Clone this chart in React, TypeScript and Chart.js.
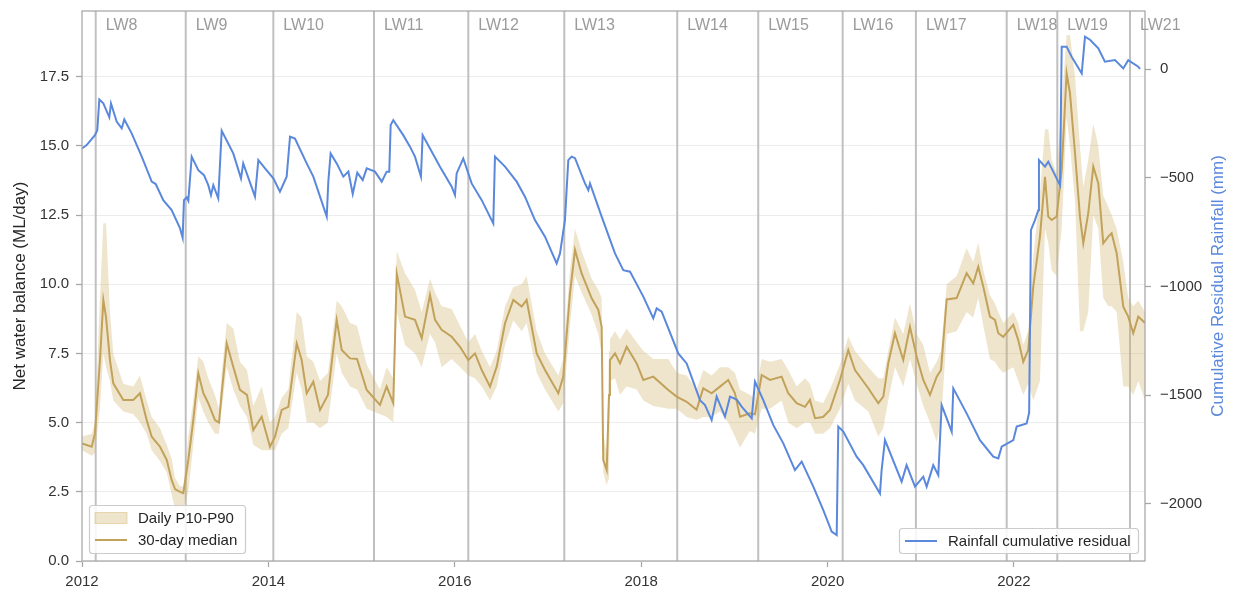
import { useEffect, useRef } from 'react';
import { Chart, registerables } from 'chart.js';

Chart.register(...registerables);

// ---- 30-day median and daily P10–P90 band (ML/day), decimal years ----
const medianYears = [
  2012.000, 2012.104, 2012.139, 2012.193, 2012.229, 2012.258, 2012.300, 2012.336, 2012.443, 2012.550,
  2012.622, 2012.694, 2012.748, 2012.837, 2012.909, 2012.962, 2012.998, 2013.052, 2013.087, 2013.141,
  2013.194, 2013.248, 2013.302, 2013.355, 2013.427, 2013.470, 2013.499, 2013.553, 2013.623, 2013.695,
  2013.770, 2013.838, 2013.928, 2014.017, 2014.071, 2014.143, 2014.214, 2014.304, 2014.357, 2014.411,
  2014.482, 2014.554, 2014.639, 2014.733, 2014.787, 2014.876, 2014.951, 2015.055, 2015.197, 2015.269,
  2015.340, 2015.377, 2015.466, 2015.573, 2015.645, 2015.734, 2015.788, 2015.859, 2015.967, 2016.056,
  2016.145, 2016.217, 2016.289, 2016.378, 2016.450, 2016.539, 2016.628, 2016.718, 2016.771, 2016.879,
  2016.968, 2017.111, 2017.164, 2017.236, 2017.290, 2017.361, 2017.469, 2017.540, 2017.576, 2017.593,
  2017.630, 2017.655, 2017.665, 2017.719, 2017.773, 2017.844, 2017.952, 2018.023, 2018.130, 2018.291,
  2018.381, 2018.488, 2018.595, 2018.666, 2018.756, 2018.845, 2018.934, 2019.006, 2019.060, 2019.167,
  2019.221, 2019.293, 2019.382, 2019.507, 2019.578, 2019.668, 2019.758, 2019.811, 2019.865, 2019.951,
  2020.026, 2020.133, 2020.222, 2020.294, 2020.437, 2020.544, 2020.598, 2020.651, 2020.723, 2020.812,
  2020.884, 2020.956, 2021.027, 2021.099, 2021.171, 2021.217, 2021.278, 2021.385, 2021.492, 2021.563,
  2021.617, 2021.671, 2021.742, 2021.796, 2021.832, 2021.885, 2021.993, 2022.046, 2022.100, 2022.153,
  2022.207, 2022.279, 2022.333, 2022.368, 2022.404, 2022.458, 2022.512, 2022.565, 2022.601, 2022.655,
  2022.708, 2022.744, 2022.797, 2022.851, 2022.905, 2022.958, 2023.012, 2023.048, 2023.102, 2023.173,
  2023.226, 2023.280, 2023.334, 2023.406,
];

const medianValues = [
  4.25, 4.13, 4.61, 7.26, 9.43, 8.80, 7.26, 6.42, 5.82, 5.82,
  6.06, 5.09, 4.49, 4.13, 3.65, 2.93, 2.60, 2.50, 2.45, 3.65,
  5.09, 6.78, 6.06, 5.70, 5.09, 5.00, 6.06, 7.86, 7.02, 6.18,
  6.00, 4.73, 5.21, 4.13, 4.49, 5.46, 5.57, 7.86, 7.26, 6.06,
  6.48, 5.46, 6.00, 8.71, 7.62, 7.32, 7.30, 6.18, 5.64, 6.30,
  5.70, 10.39, 8.83, 8.71, 8.05, 9.61, 8.71, 8.35, 8.10, 7.74,
  7.26, 7.50, 6.90, 6.30, 7.02, 8.59, 9.43, 9.19, 9.43, 7.50,
  6.90, 6.06, 6.66, 9.67, 11.24, 10.39, 9.49, 9.07, 8.46, 3.65,
  3.29, 6.00, 7.26, 7.50, 7.14, 7.74, 7.14, 6.54, 6.66, 6.18,
  5.94, 5.75, 5.46, 6.24, 6.06, 6.30, 6.54, 6.06, 5.21, 5.34,
  5.30, 6.72, 6.54, 6.66, 6.06, 5.70, 5.57, 5.82, 5.16, 5.20,
  5.46, 6.54, 7.62, 6.90, 6.24, 5.70, 5.94, 7.14, 8.23, 7.26,
  8.46, 7.38, 6.54, 6.00, 6.66, 6.90, 9.45, 9.50, 10.40, 10.03,
  10.63, 9.91, 8.83, 8.71, 8.23, 8.10, 8.53, 7.98, 7.20, 7.62,
  9.91, 11.72, 13.88, 12.44, 12.32, 12.44, 14.13, 17.62, 16.90, 14.73,
  12.44, 11.48, 12.56, 14.25, 13.64, 11.48, 11.72, 11.84, 11.12, 9.19,
  8.83, 8.23, 8.83, 8.60,
];

const bandLow = [
  4.0, 3.8, 3.9, 5.5, 7.5, 7.0, 6.5, 5.8, 5.4, 5.3,
  5.0, 4.6, 4.0, 3.6, 3.2, 2.4, 1.9, 2.0, 1.9, 2.5,
  4.2, 5.9, 5.4, 5.0, 4.6, 4.6, 5.5, 7.0, 6.2, 5.6,
  5.2, 4.2, 4.0, 4.0, 4.0, 4.6, 4.8, 6.8, 6.2, 5.0,
  5.0, 4.8, 5.0, 7.5, 6.8, 6.3, 6.2, 5.5, 5.3, 5.2,
  5.0, 9.0, 7.8, 7.5, 7.0, 8.2, 7.9, 7.0, 7.3, 7.0,
  6.7, 6.6, 6.3, 5.8, 6.3, 7.8, 8.7, 8.3, 8.6, 6.8,
  6.2, 5.4, 5.7, 8.5, 10.3, 9.7, 8.9, 8.2, 7.5, 3.2,
  2.75, 3.0, 6.5, 6.6, 6.0, 6.3, 6.2, 5.8, 5.6, 5.5,
  5.5, 5.2, 5.1, 5.2, 5.2, 5.4, 5.0, 4.5, 4.1, 4.7,
  4.6, 5.5, 5.5, 5.8, 5.0, 4.8, 5.0, 5.0, 4.6, 4.6,
  4.8, 5.5, 6.4, 5.8, 5.4, 4.5, 4.8, 5.8, 7.0, 6.3,
  7.3, 6.4, 5.6, 5.0, 4.3, 5.0, 8.2, 8.3, 9.0, 8.8,
  9.5, 8.5, 7.3, 7.2, 7.0, 6.8, 7.0, 6.5, 6.0, 6.4,
  5.8, 6.5, 12.0, 11.5, 10.5, 10.3, 12.0, 16.0, 15.0, 13.0,
  8.3, 8.3, 9.0, 12.5, 12.0, 9.5, 9.2, 9.2, 9.0, 6.3,
  6.3, 6.0, 6.5, 5.8,
];

const bandHigh = [
  4.5, 4.6, 5.0, 9.5, 12.2, 12.2, 9.0, 7.5, 6.4, 6.3,
  6.7, 5.8, 5.2, 4.8, 4.2, 3.7, 3.0, 2.7, 2.7, 4.5,
  5.8, 7.4, 7.2, 6.6, 6.0, 5.5, 6.8, 8.6, 8.4, 7.2,
  6.9, 5.6, 6.3, 5.0, 5.2, 5.9, 6.2, 9.0, 8.8, 7.4,
  7.2, 6.5, 6.8, 9.4, 9.2, 8.6, 8.5, 7.1, 6.2, 7.0,
  6.6, 11.2, 10.4, 9.8, 9.0, 10.2, 9.7, 9.2, 9.1, 8.5,
  7.9, 8.2, 7.6, 7.0, 7.6, 9.2, 9.9, 10.0, 10.3, 8.3,
  7.5, 6.7, 7.3, 10.5, 12.0, 11.2, 10.2, 9.8, 9.5, 4.6,
  3.9, 7.6, 8.0, 8.3, 8.0, 8.4, 7.9, 7.6, 7.3, 7.3,
  6.8, 6.7, 6.2, 6.9, 6.7, 7.0, 7.0, 6.8, 6.2, 6.0,
  5.9, 7.3, 7.2, 7.3, 6.9, 6.3, 6.6, 6.4, 5.8, 5.7,
  6.2, 7.1, 8.1, 7.6, 7.0, 6.6, 6.6, 7.6, 8.8, 8.2,
  9.3, 8.2, 7.8, 6.8, 7.2, 7.6, 10.0, 10.3, 11.3, 10.8,
  11.5, 10.5, 9.6, 9.3, 9.0, 8.6, 9.0, 8.6, 7.8, 8.3,
  11.0, 13.3, 15.6, 15.6, 14.5, 14.0, 16.5, 19.0, 19.0, 17.5,
  15.0, 13.5, 14.5, 15.8, 15.0, 13.2, 12.8, 12.5, 12.0, 10.8,
  9.5, 9.2, 9.4, 9.0,
];

// ---- Rainfall cumulative residual (mm), decimal years ----
const rainYears = [
  2012.000, 2012.050, 2012.139, 2012.164, 2012.186, 2012.229, 2012.293, 2012.311, 2012.372, 2012.426,
  2012.454, 2012.533, 2012.641, 2012.748, 2012.791, 2012.872, 2012.962, 2013.052, 2013.080, 2013.094,
  2013.123, 2013.141, 2013.177, 2013.248, 2013.309, 2013.355, 2013.384, 2013.409, 2013.462, 2013.499,
  2013.623, 2013.706, 2013.730, 2013.856, 2013.892, 2013.964, 2014.053, 2014.124, 2014.196, 2014.232,
  2014.285, 2014.411, 2014.482, 2014.626, 2014.643, 2014.668, 2014.733, 2014.804, 2014.858, 2014.905,
  2014.954, 2015.012, 2015.055, 2015.144, 2015.216, 2015.269, 2015.297, 2015.312, 2015.340, 2015.447,
  2015.519, 2015.573, 2015.637, 2015.655, 2015.734, 2015.841, 2015.967, 2016.002, 2016.020, 2016.091,
  2016.181, 2016.289, 2016.413, 2016.431, 2016.539, 2016.664, 2016.753, 2016.860, 2016.968, 2017.093,
  2017.129, 2017.182, 2017.218, 2017.254, 2017.290, 2017.397, 2017.433, 2017.451, 2017.576, 2017.719,
  2017.808, 2017.880, 2018.023, 2018.130, 2018.166, 2018.220, 2018.398, 2018.488, 2018.631, 2018.685,
  2018.756, 2018.810, 2018.899, 2018.953, 2019.025, 2019.078, 2019.186, 2019.221, 2019.310, 2019.418,
  2019.525, 2019.650, 2019.722, 2019.847, 2019.954, 2020.044, 2020.098, 2020.115, 2020.169, 2020.312,
  2020.383, 2020.562, 2020.580, 2020.616, 2020.795, 2020.848, 2020.938, 2021.027, 2021.063, 2021.134,
  2021.188, 2021.224, 2021.332, 2021.349, 2021.492, 2021.635, 2021.778, 2021.832, 2021.868, 2021.993,
  2022.029, 2022.136, 2022.153, 2022.163, 2022.182, 2022.225, 2022.261, 2022.268, 2022.333, 2022.368,
  2022.494, 2022.512, 2022.565, 2022.619, 2022.727, 2022.762, 2022.816, 2022.905, 2022.976, 2023.084,
  2023.173, 2023.226, 2023.334, 2023.352,
];

const rainResidual = [
  -365, -350, -304, -281, -140, -158, -222, -158, -242, -273,
  -232, -296, -403, -518, -529, -603, -649, -733, -776, -603,
  -590, -606, -403, -465, -488, -534, -580, -534, -595, -284,
  -388, -503, -434, -587, -419, -457, -503, -564, -495, -311,
  -320, -434, -495, -679, -518, -388, -434, -495, -472, -575,
  -477, -511, -457, -472, -518, -472, -472, -258, -235, -304,
  -357, -403, -495, -304, -365, -449, -541, -580, -480, -411,
  -526, -603, -710, -403, -449, -518, -587, -695, -771, -894,
  -848, -695, -419, -403, -410, -526, -557, -526, -679, -848,
  -925, -932, -1047, -1147, -1101, -1116, -1308, -1354, -1523, -1546,
  -1615, -1507, -1599, -1507, -1520, -1553, -1607, -1438, -1523, -1638,
  -1722, -1845, -1806, -1921, -2029, -2128, -2144, -1645, -1668, -1783,
  -1822, -1952, -1845, -1707, -1898, -1822, -1921, -1875, -1921, -1822,
  -1868, -1546, -1668, -1469, -1584, -1707, -1783, -1791, -1737, -1707,
  -1645, -1630, -1599, -1580, -741, -695, -649, -419, -449, -426,
  -534, 103, 103, 57, -20, 149, 135, 95, 34, 41,
  3, 41, 11, 0,
];

// ---- Longwall panel start markers ----
const lwNames = ['LW8', 'LW9', 'LW10', 'LW11', 'LW12', 'LW13', 'LW14', 'LW15', 'LW16', 'LW17', 'LW18', 'LW19', 'LW21'];
const lwYears = [2012.147, 2013.113, 2014.053, 2015.133, 2016.145, 2017.175, 2018.387, 2019.256, 2020.162, 2020.948, 2021.922, 2022.465, 2023.245];

// ---- Axis ranges and tick values ----
const X_MIN = 2012;
const X_MAX = 2023.406;
const Y_MIN = 0;
const Y_MAX = 19.87;
const R_MIN = -2263;
const R_MAX = 267;
const xTicks = [2012, 2014, 2016, 2018, 2020, 2022];
const yTicks = [0, 2.5, 5, 7.5, 10, 12.5, 15, 17.5];
const rainTicks = [-2000, -1500, -1000, -500, 0];

const FONT = "'Liberation Sans', Arial, Helvetica, sans-serif";
const BLUE = '#5a88dc';
const GOLD = '#c2a25a';
const BAND = 'rgba(205, 175, 100, 0.32)';
const BAND_EDGE = 'rgba(205, 175, 100, 0.42)';
const TEXT = '#262626';
const TICK_TEXT = '#333333';
const FRAME = '#a6a6a6';
const LW_LINE = '#c0c0c0';
const LW_TEXT = '#9b9b9b';

function points(xs: number[], ys: number[]) {
  return xs.map((x, i) => ({ x, y: ys[i] }));
}

function fixedTicks(values: number[]) {
  return (scale: any) => {
    scale.ticks = values.map((value) => ({ value }));
  };
}

// Fix an axis box to a given thickness and drop the label overhang padding
function fixedBox(prop: 'width' | 'height', size: number) {
  return (scale: any) => {
    scale[prop] = size;
    scale.paddingTop = 0;
    scale.paddingBottom = 0;
    scale.paddingLeft = 0;
    scale.paddingRight = 0;
  };
}

function roundRectPath(ctx: CanvasRenderingContext2D, x: number, y: number, w: number, h: number, r: number) {
  ctx.beginPath();
  ctx.moveTo(x + r, y);
  ctx.lineTo(x + w - r, y);
  ctx.arcTo(x + w, y, x + w, y + r, r);
  ctx.lineTo(x + w, y + h - r);
  ctx.arcTo(x + w, y + h, x + w - r, y + h, r);
  ctx.lineTo(x + r, y + h);
  ctx.arcTo(x, y + h, x, y + h - r, r);
  ctx.lineTo(x, y + r);
  ctx.arcTo(x, y, x + r, y, r);
  ctx.closePath();
}

type LegendItem = { kind: 'patch' | 'line'; color: string; label: string; y: number };

function drawLegend(
  ctx: CanvasRenderingContext2D,
  box: { x: number; y: number; w: number; h: number },
  handleX: number,
  items: LegendItem[],
) {
  ctx.save();
  roundRectPath(ctx, box.x, box.y, box.w, box.h, 3);
  ctx.fillStyle = 'rgba(255,255,255,0.85)';
  ctx.fill();
  ctx.strokeStyle = '#cccccc';
  ctx.lineWidth = 1.2;
  ctx.stroke();
  ctx.font = `15px ${FONT}`;
  ctx.textAlign = 'left';
  ctx.textBaseline = 'middle';
  for (const it of items) {
    if (it.kind === 'patch') {
      ctx.fillStyle = it.color;
      ctx.fillRect(handleX, it.y - 5.5, 32, 11);
      ctx.strokeStyle = BAND_EDGE;
      ctx.lineWidth = 1;
      ctx.strokeRect(handleX, it.y - 5.5, 32, 11);
    } else {
      ctx.strokeStyle = it.color;
      ctx.lineWidth = 2;
      ctx.beginPath();
      ctx.moveTo(handleX, it.y);
      ctx.lineTo(handleX + 32, it.y);
      ctx.stroke();
    }
    ctx.fillStyle = TEXT;
    ctx.fillText(it.label, handleX + 43, it.y + 0.5);
  }
  ctx.restore();
}

// Panel markers, frame, right-hand title and the two legends
const panelDecor = {
  id: 'panelDecor',
  beforeDatasetsDraw(chart: any) {
    const { ctx, chartArea: a, scales } = chart;
    ctx.save();
    ctx.strokeStyle = LW_LINE;
    ctx.lineWidth = 2;
    for (const yr of lwYears) {
      const x = scales.x.getPixelForValue(yr);
      ctx.beginPath();
      ctx.moveTo(x, a.top);
      ctx.lineTo(x, a.bottom);
      ctx.stroke();
    }
    ctx.restore();
  },
  afterDraw(chart: any) {
    const { ctx, chartArea: a, scales } = chart;
    ctx.save();
    // frame
    ctx.strokeStyle = FRAME;
    ctx.lineWidth = 1.25;
    ctx.strokeRect(a.left, a.top, a.right - a.left, a.bottom - a.top);

    // panel labels
    ctx.font = `16px ${FONT}`;
    ctx.fillStyle = LW_TEXT;
    ctx.textAlign = 'left';
    ctx.textBaseline = 'middle';
    lwYears.forEach((yr, i) => {
      const x = scales.x.getPixelForValue(yr);
      ctx.fillText(lwNames[i], x + 10, a.top + 15);
    });

    // secondary axis title
    ctx.translate(1218, (a.top + a.bottom) / 2);
    ctx.rotate(-Math.PI / 2);
    ctx.font = `17px ${FONT}`;
    ctx.fillStyle = BLUE;
    ctx.textAlign = 'center';
    ctx.textBaseline = 'middle';
    ctx.fillText('Cumulative Residual Rainfall (mm)', 0, 0);
    ctx.restore();

    drawLegend(ctx, { x: 89.5, y: 505.5, w: 156, h: 48 }, 95, [
      { kind: 'patch', color: BAND, label: 'Daily P10-P90', y: 518 },
      { kind: 'line', color: GOLD, label: '30-day median', y: 540 },
    ]);
    drawLegend(ctx, { x: 899.5, y: 528.5, w: 239, h: 25 }, 905, [
      { kind: 'line', color: BLUE, label: 'Rainfall cumulative residual', y: 541 },
    ]);
  },
};

export default function App() {
  const canvasRef = useRef<HTMLCanvasElement>(null);

  useEffect(() => {
    const canvas = canvasRef.current;
    if (!canvas) return;

    const lineBase = { pointRadius: 0, pointHoverRadius: 0, tension: 0 };

    const chart = new Chart(canvas, {
      type: 'line',
      data: {
        datasets: [
          {
            label: 'Rainfall cumulative residual',
            data: points(rainYears, rainResidual),
            yAxisID: 'y2',
            borderColor: BLUE,
            borderWidth: 2,
            fill: false,
            ...lineBase,
          },
          {
            label: '30-day median',
            data: points(medianYears, medianValues),
            yAxisID: 'y',
            borderColor: GOLD,
            borderWidth: 2,
            fill: false,
            ...lineBase,
          },
          {
            label: 'Daily P90',
            data: points(medianYears, bandHigh),
            yAxisID: 'y',
            borderColor: 'rgba(0,0,0,0)',
            borderWidth: 0,
            backgroundColor: BAND,
            fill: '+1',
            ...lineBase,
          },
          {
            label: 'Daily P10',
            data: points(medianYears, bandLow),
            yAxisID: 'y',
            borderColor: 'rgba(0,0,0,0)',
            borderWidth: 0,
            fill: false,
            ...lineBase,
          },
        ],
      },
      options: {
        responsive: false,
        maintainAspectRatio: false,
        animation: false,
        events: [],
        layout: { padding: { top: 11, left: 0, right: 0, bottom: 0 } },
        plugins: {
          legend: { display: false },
          tooltip: { enabled: false },
        },
        scales: {
          x: {
            type: 'linear',
            position: 'bottom',
            min: X_MIN,
            max: X_MAX,
            afterBuildTicks: fixedTicks(xTicks),
            afterFit: fixedBox('height', 31),
            border: { display: false },
            grid: { drawOnChartArea: false, drawTicks: true, tickLength: 6, tickColor: FRAME, tickWidth: 1.25 },
            ticks: {
              autoSkip: false,
              maxRotation: 0,
              padding: 6,
              color: TICK_TEXT,
              font: { family: FONT, size: 15 },
              callback: (v: any) => String(v),
            },
          },
          y: {
            type: 'linear',
            position: 'left',
            min: Y_MIN,
            max: Y_MAX,
            afterBuildTicks: fixedTicks(yTicks),
            afterFit: fixedBox('width', 82),
            border: { display: false },
            grid: { color: '#ececec', lineWidth: 1, drawTicks: true, tickLength: 6, tickColor: FRAME, tickWidth: 1.25 },
            ticks: {
              autoSkip: false,
              padding: 7,
              color: TICK_TEXT,
              font: { family: FONT, size: 15 },
              callback: (v: any) => Number(v).toFixed(1),
            },
            title: {
              display: true,
              text: 'Net water balance (ML/day)',
              color: TEXT,
              font: { family: FONT, size: 17 },
              padding: { top: 10, bottom: 0 },
            },
          },
          y2: {
            type: 'linear',
            position: 'right',
            min: R_MIN,
            max: R_MAX,
            afterBuildTicks: fixedTicks(rainTicks),
            afterFit: fixedBox('width', 91),
            border: { display: false },
            grid: { drawOnChartArea: false, drawTicks: true, tickLength: 6, tickColor: FRAME, tickWidth: 1.25 },
            ticks: {
              autoSkip: false,
              padding: 9,
              color: TICK_TEXT,
              font: { family: FONT, size: 15 },
              callback: (v: any) => (Number(v) < 0 ? '\u2212' + Math.abs(Number(v)) : String(v)),
            },
          },
        },
      },
      plugins: [panelDecor],
    } as any);

    return () => chart.destroy();
  }, []);

  return (
    <div style={{ position: 'fixed', left: 0, top: 0, width: 1236, height: 592, background: '#ffffff' }}>
      <canvas ref={canvasRef} width={1236} height={592} style={{ display: 'block', width: 1236, height: 592 }} />
    </div>
  );
}
